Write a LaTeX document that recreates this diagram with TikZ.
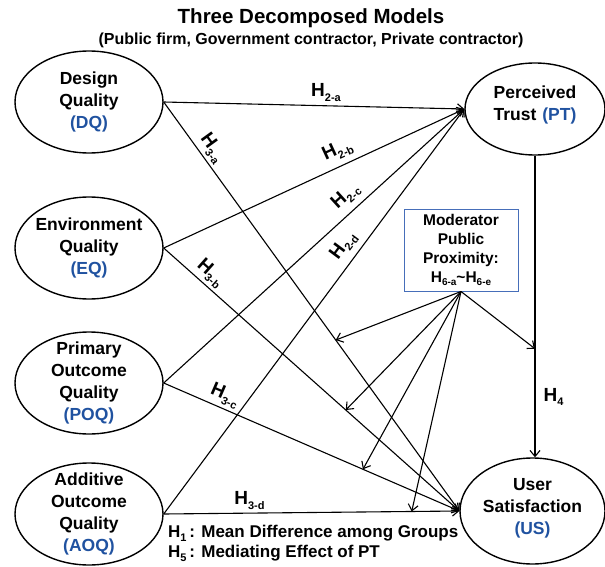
\documentclass[tikz,border=0pt]{standalone}
\usepackage{fontspec}
\setmainfont{Liberation Sans}
\usetikzlibrary{shapes.geometric,arrows.meta}
\definecolor{abbr}{RGB}{32,82,160}
\definecolor{modframe}{RGB}{70,110,185}
% hypothesis label: H with a lowered index
\newcommand\hyp[2]{H\raisebox{-0.45ex}{\fontsize{#2}{#2}\selectfont #1}}

\begin{document}
\begin{tikzpicture}[x=1pt,y=-1pt,
  construct/.style={ellipse,draw,line width=1.4pt,inner sep=0pt,
    minimum width=148pt,minimum height=102pt},
  ctext/.style={align=center,font=\fontsize{17.5}{22}\selectfont\bfseries},
  link/.style={line width=1.1pt,-{Straight Barb[length=6pt,width=10pt]}},
  hlab/.style={font=\fontsize{19}{19}\selectfont\bfseries,inner sep=2pt},
]
\useasboundingbox (0,0) rectangle (605,567);

% headings
\node[font=\fontsize{20.5}{24}\selectfont\bfseries] (title) at (311,18) {Three Decomposed Models};
\node[font=\fontsize{16}{19}\selectfont\bfseries] (subtitle) at (311,40)
  {(Public firm, Government contractor, Private contractor)};

% quality constructs
\node[construct,label={[ctext]center:{Design\\Quality\\\textcolor{abbr}{(DQ)}}}] (DQ) at (89,102) {};
\node[construct,label={[ctext]center:{Environment\\Quality\\\textcolor{abbr}{(EQ)}}}] (EQ) at (89,248) {};
\node[construct,label={[ctext]center:{Primary\\Outcome\\Quality\\\textcolor{abbr}{(POQ)}}}] (POQ) at (89,383) {};
\node[construct,label={[ctext]center:{Additive\\Outcome\\Quality\\\textcolor{abbr}{(AOQ)}}}] (AOQ) at (89,514) {};

% outcome constructs
\node[construct,minimum width=140pt,minimum height=92pt,
  label={[ctext,yshift=4pt]center:{Perceived\\Trust\hspace{6pt}\textcolor{abbr}{(PT)}}}] (PT) at (535,109) {};
\node[construct,minimum width=145pt,minimum height=106pt,
  label={[ctext,yshift=3pt]center:{User\\Satisfaction\\\textcolor{abbr}{(US)}}}] (US) at (532.5,511) {};

% moderator
\node[draw=modframe,line width=1pt,minimum width=114pt,minimum height=82pt,inner sep=0pt,
  align=center,font=\fontsize{15.5}{19}\selectfont\bfseries] (MOD) at (461,250)
  {Moderator\\Public\\Proximity:\\\hyp{6-a}{10}\textasciitilde\hyp{6-e}{10}};

% paths to perceived trust
\draw[link] (DQ.east) -- node[hlab,pos=0.54,above=2pt]{\hyp{2-a}{11}} (PT.west);
\draw[link] (EQ.east) -- node[hlab,sloped,pos=0.6,above=4pt]{\hyp{2-b}{11}} (PT.west);
\draw[link] (POQ.east) -- node[hlab,sloped,pos=0.64,above=4pt]{\hyp{2-c}{11}} (PT.west);
\draw[link] (AOQ.east) -- node[hlab,sloped,pos=0.64,above=4pt]{\hyp{2-d}{11}} (PT.west);

% paths to user satisfaction
\draw[link] (DQ.east) -- node[hlab,sloped,pos=0.13,above=1pt]{\hyp{3-a}{11}}
  coordinate[pos=0.582] (mA) (US.west);
\draw[link] (EQ.east) -- node[hlab,sloped,pos=0.13,above=1pt]{\hyp{3-b}{11}}
  coordinate[pos=0.616] (mB) (US.west);
\draw[link] (POQ.east) -- node[hlab,sloped,pos=0.19,above=1pt]{\hyp{3-c}{11}}
  coordinate[pos=0.674] (mC) (US.west);
\draw[link] (AOQ.east) -- node[hlab,pos=0.29,above=1pt]{\hyp{3-d}{11}}
  coordinate[pos=0.839] (mD) (US.west);
\draw[link] (PT.south) -- node[hlab,pos=0.8,right=6pt]{\hyp{4}{11}}
  coordinate[pos=0.64] (mE) (PT.south |- US.north);

% moderating effects
\foreach \t in {mA,mB,mC,mD,mE}
  \draw[link] (MOD.south) -- (\t);

% notes
\node[anchor=north west,align=left,inner sep=0pt,
  font=\fontsize{17}{20}\selectfont\bfseries] (notes) at (168,525)
  {\hyp{1}{11}\,: Mean Difference among Groups\\\hyp{5}{11}\,: Mediating Effect of PT};
\end{tikzpicture}
\end{document}
